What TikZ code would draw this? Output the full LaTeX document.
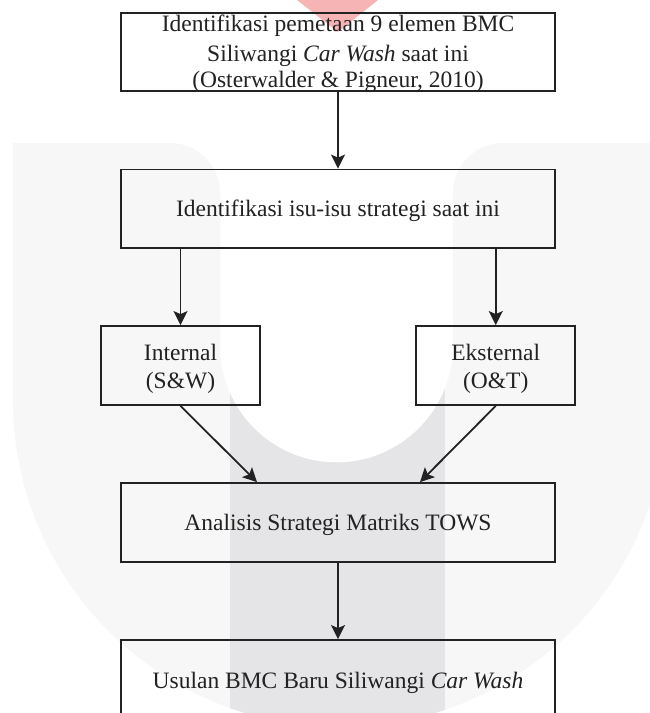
\documentclass[tikz,border=0pt]{standalone}
\usepackage{fontspec}
\setmainfont{Liberation Serif}
\usetikzlibrary{arrows.meta}
\definecolor{wmlight}{RGB}{247,247,247}
\definecolor{wmdark}{RGB}{229,229,231}
\definecolor{wmpink}{RGB}{246,180,180}
\definecolor{ink}{RGB}{34,34,34}
\newcommand\WMshape{(13,143) -- (170,143) arc[start angle=-90,end angle=0,radius=50] -- (220,346) arc[start angle=180,end angle=0,radius=116.5] -- (453,193) arc[start angle=180,end angle=270,radius=50] -- (667,143) -- (667,400) arc[start angle=0,end angle=180,radius=327] -- cycle}
\begin{document}
\begin{tikzpicture}[x=1pt,y=-1pt,
  box/.style={draw=ink, line width=1.8pt, minimum width=434pt, minimum height=78pt, inner sep=0pt},
  sbox/.style={box, minimum width=159pt, minimum height=79pt},
  txt/.style={anchor=base, inner sep=0pt, font=\fontsize{23.5}{28}\selectfont, text=ink},
  conn/.style={line width=1.8pt, draw=ink, -{Stealth[length=14pt,width=14pt,inset=3pt]}}]
\useasboundingbox (0,0) rectangle (649,713);
% watermark
\fill[white] (0,0) rectangle (649,713);
\fill[wmlight] \WMshape;
\begin{scope}
  \clip \WMshape;
  \fill[wmdark] (230,0) rectangle (445,713);
\end{scope}
\fill[wmpink] (297,0) -- (378,0) -- (338,32) -- cycle;
% boxes
\node[box] (top) at (338,51.7) {};
\node[box, minimum height=78.5pt] (iss) at (338,208.75) {};
\node[sbox] (int) at (180.5,365.5) {};
\node[sbox] (eks) at (495.75,365.5) {};
\node[box, minimum height=79pt] (tows) at (338,522.5) {};
\node[box] (usul) at (338,679) {};
% texts
\node[txt] (t1) at (338,31.7) {Identifikasi pemetaan 9 elemen BMC};
\node[txt] (t2) at (338,61) {Siliwangi \textit{Car Wash} saat ini};
\node[txt] (t3) at (338,87.3) {(Osterwalder \& Pigneur, 2010)};
\node[txt] (t4) at (338,216.7) {Identifikasi isu-isu strategi saat ini};
\node[txt] (t5) at (180.5,360) {Internal};
\node[txt] (t6) at (180.5,388) {(S\&W)};
\node[txt] (t7) at (495.75,360) {Eksternal};
\node[txt] (t8) at (495.75,388) {(O\&T)};
\node[txt] (t9) at (338,530.5) {Analisis Strategi Matriks TOWS};
\node[txt] (t10) at (338,688) {Usulan BMC Baru Siliwangi \textit{Car Wash}};
% connectors
\draw[conn] (top.south) -- (iss.north);
\draw[conn] (iss.south -| int.north) -- (int.north);
\draw[conn] (iss.south -| eks.north) -- (eks.north);
\draw[conn] (int.south) -- ([xshift=-81pt]tows.north);
\draw[conn] (eks.south) -- ([xshift=82pt]tows.north);
\draw[conn] (tows.south) -- (usul.north);
\end{tikzpicture}
\end{document}
